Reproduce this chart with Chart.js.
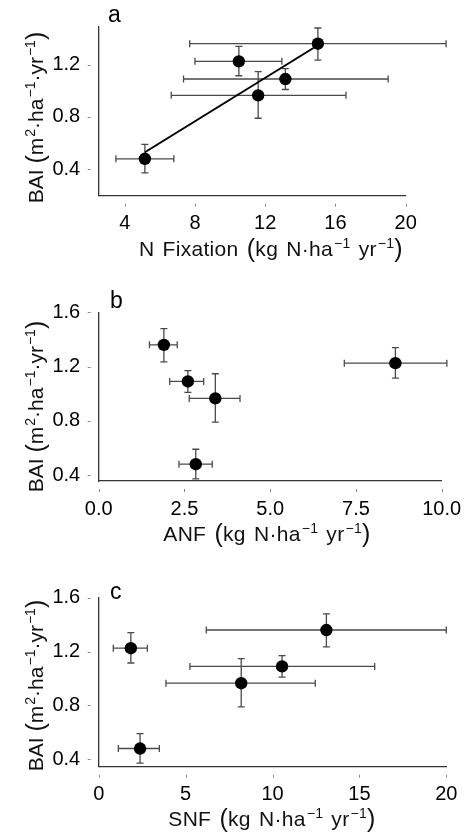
<!DOCTYPE html>
<html>
<head>
<meta charset="utf-8">
<script src="https://cdn.jsdelivr.net/npm/chart.js@4.4.0/dist/chart.umd.min.js"></script>
<style>
  body { margin: 0; background: #fff; font-family: "Liberation Sans", Arial, sans-serif; }
  #page { position: relative; width: 466px; height: 840px; overflow: hidden; }
  .panel { position: absolute; left: 0; width: 466px; height: 280px; }
  .letter { position: absolute; font-size: 23px; line-height: 23px; color: #000; }
  .xtitle { position: absolute; width: 466px; text-align: center; font-size: 21px; line-height: 21px; color: #111;
            white-space: nowrap; word-spacing: 2px; letter-spacing: 0.3px; }
  .ytitle { position: absolute; width: 260px; text-align: center; font-size: 21px; line-height: 21px; color: #111; white-space: nowrap;
            transform: rotate(-90deg); transform-origin: 50% 50%; }
  sup { font-size: 14px; line-height: 0; vertical-align: 8px; margin-left: 1px; }
  .par { font-size: 25px; line-height: 0; vertical-align: -1px; }
</style>
</head>
<body>
<div id="page">
  <div class="panel" style="top:0"><canvas id="chartA" width="466" height="280"></canvas></div>
  <div class="panel" style="top:280px"><canvas id="chartB" width="466" height="280"></canvas></div>
  <div class="panel" style="top:560px"><canvas id="chartC" width="466" height="280"></canvas></div>

  <div class="letter" style="left:108px; top:3px">a</div>
  <div class="letter" style="left:110px; top:289px">b</div>
  <div class="letter" style="left:110px; top:580px">c</div>

  <div class="xtitle" style="left:38px; top:238px">N Fixation <span class="par">(</span>kg N·ha<sup>−1</sup> yr<sup>−1</sup><span class="par">)</span></div>
  <div class="xtitle" style="left:34px; top:523px">ANF <span class="par">(</span>kg N·ha<sup>−1</sup> yr<sup>−1</sup><span class="par">)</span></div>
  <div class="xtitle" style="left:39px; top:808px">SNF <span class="par">(</span>kg N·ha<sup>−1</sup> yr<sup>−1</sup><span class="par">)</span></div>

  <div class="ytitle" style="left:-95px; top:107px">BAI <span class="par">(</span>m<sup>2</sup>·ha<sup>−1</sup>·yr<sup>−1</sup><span class="par">)</span></div>
  <div class="ytitle" style="left:-95px; top:396px">BAI <span class="par">(</span>m<sup>2</sup>·ha<sup>−1</sup>·yr<sup>−1</sup><span class="par">)</span></div>
  <div class="ytitle" style="left:-95px; top:675px">BAI <span class="par">(</span>m<sup>2</sup>·ha<sup>−1</sup>·yr<sup>−1</sup><span class="par">)</span></div>
</div>

<script>
// BAI per site (same five sites in every panel)
const bai     = [1.36, 1.225, 1.09, 0.965, 0.48];
const baiLow  = [1.235, 1.115, 1.01, 0.79, 0.372];
const baiHigh = [1.48, 1.34, 1.17, 1.147, 0.59];

// panel a: total N fixation
const nFix     = [15.0, 10.5, 13.15, 11.6, 5.15];
const nFixLow  = [7.7, 8.0, 7.35, 6.65, 3.5];
const nFixHigh = [22.3, 12.95, 19.0, 16.6, 6.8];
const fitX = [5.15, 15.0];
const fitY = [0.53, 1.348];

// panel b: ANF
const anf     = [1.9, 8.65, 2.6, 3.4, 2.83];
const anfLow  = [1.48, 7.16, 2.07, 2.64, 2.34];
const anfHigh = [2.29, 10.15, 3.06, 4.12, 3.31];

// panel c: SNF
const snf     = [13.1, 1.85, 10.55, 8.2, 2.38];
const snfLow  = [6.19, 0.84, 5.25, 3.87, 1.13];
const snfHigh = [20.0, 2.8, 15.88, 12.46, 3.49];

// tick labels
const xTicksA = [4, 8, 12, 16, 20];
const xTicksB = [0, 2.5, 5, 7.5, 10];
const xTicksC = [0, 5, 10, 15, 20];
const yTicksA = [0.4, 0.8, 1.2];
const yTicksBC = [0.4, 0.8, 1.2, 1.6];

const FONT = "'Liberation Sans', Arial, sans-serif";

// error bars + detached little tick marks
const errorBars = {
    id: 'errorBars',
    beforeDatasetsDraw(chart) {
        const ctx = chart.ctx;
        const xs = chart.scales.x, ys = chart.scales.y;
        chart.data.datasets.forEach(ds => {
            if (!ds.xLow) return;
            ctx.save();
            ctx.strokeStyle = '#4a4a4a';
            ctx.lineWidth = 1.3;
            const cap = 3.5;
            ds.data.forEach((p, i) => {
                const px = xs.getPixelForValue(p.x), py = ys.getPixelForValue(p.y);
                const x0 = xs.getPixelForValue(ds.xLow[i]), x1 = xs.getPixelForValue(ds.xHigh[i]);
                const y0 = ys.getPixelForValue(ds.yLow[i]), y1 = ys.getPixelForValue(ds.yHigh[i]);
                ctx.beginPath();
                ctx.moveTo(x0, py); ctx.lineTo(x1, py);
                ctx.moveTo(x0, py - cap); ctx.lineTo(x0, py + cap);
                ctx.moveTo(x1, py - cap); ctx.lineTo(x1, py + cap);
                ctx.moveTo(px, y0); ctx.lineTo(px, y1);
                ctx.moveTo(px - cap, y0); ctx.lineTo(px + cap, y0);
                ctx.moveTo(px - cap, y1); ctx.lineTo(px + cap, y1);
                ctx.stroke();
            });
            ctx.restore();
        });
    },
    afterDraw(chart) {
        const ctx = chart.ctx;
        const xs = chart.scales.x, ys = chart.scales.y;
        const area = chart.chartArea;
        ctx.save();
        ctx.strokeStyle = '#888';
        ctx.lineWidth = 1;
        ctx.beginPath();
        xs.ticks.forEach(t => {
            const x = Math.round(xs.getPixelForValue(t.value)) + 0.5;
            ctx.moveTo(x, area.bottom + 8); ctx.lineTo(x, area.bottom + 11);
        });
        ys.ticks.forEach(t => {
            const y = Math.round(ys.getPixelForValue(t.value)) + 0.5;
            ctx.moveTo(area.left - 11, y); ctx.lineTo(area.left - 8, y);
        });
        ctx.stroke();
        ctx.restore();
    }
};

function points(xv, yv) {
    return xv.map((x, i) => ({ x: x, y: yv[i] }));
}

function makePanel(id, cfg) {
    const datasets = [];
    if (cfg.fit) {
        datasets.push({
            type: 'line',
            data: points(cfg.fit[0], cfg.fit[1]),
            borderColor: '#000',
            borderWidth: 2,
            pointRadius: 0,
            fill: false,
            clip: false
        });
    }
    datasets.push({
        type: 'scatter',
        data: points(cfg.x, bai),
        xLow: cfg.xLow, xHigh: cfg.xHigh,
        yLow: baiLow, yHigh: baiHigh,
        backgroundColor: '#000',
        borderWidth: 0,
        pointRadius: 6.2,
        clip: false
    });

    return new Chart(document.getElementById(id), {
        type: 'scatter',
        data: { datasets: datasets },
        plugins: [errorBars],
        options: {
            responsive: false,
            animation: false,
            layout: { padding: { left: 0, top: cfg.top, right: 466 - cfg.right, bottom: 0 } },
            plugins: { legend: { display: false }, tooltip: { enabled: false } },
            scales: {
                x: {
                    type: 'linear',
                    min: cfg.xMin, max: cfg.xMax,
                    afterBuildTicks: s => { s.ticks = cfg.xTicks.map(v => ({ value: v })); },
                    afterFit: s => {
                        s.height = 280 - cfg.bottom;
                        s.paddingLeft = 0; s.paddingRight = 0;
                    },
                    grid: { display: false, drawTicks: false },
                    border: { display: true, color: '#333', width: 1.3 },
                    ticks: {
                        color: '#000', padding: 16, maxRotation: 0,
                        font: { family: FONT, size: 20 },
                        callback: v => v.toFixed(cfg.xDec)
                    }
                },
                y: {
                    type: 'linear',
                    min: cfg.yMin, max: cfg.yMax,
                    afterBuildTicks: s => { s.ticks = cfg.yTicks.map(v => ({ value: v })); },
                    afterFit: s => {
                        s.width = 98.7;
                        s.paddingTop = 0; s.paddingBottom = 0;
                    },
                    grid: { display: false, drawTicks: false },
                    border: { display: true, color: '#333', width: 1.3 },
                    ticks: {
                        color: '#000', padding: 18.5,
                        font: { family: FONT, size: 20 },
                        callback: v => v.toFixed(1)
                    }
                }
            }
        }
    });
}

makePanel('chartA', {
    x: nFix, xLow: nFixLow, xHigh: nFixHigh, fit: [fitX, fitY],
    xMin: 2.52, xMax: 20, yMin: 0.198, yMax: 1.49,
    xTicks: xTicksA, yTicks: yTicksA, xDec: 0,
    top: 26.7, bottom: 195.7, right: 405.7
});
makePanel('chartB', {
    x: anf, xLow: anfLow, xHigh: anfHigh,
    xMin: 0, xMax: 10, yMin: 0.356, yMax: 1.6,
    xTicks: xTicksB, yTicks: yTicksBC, xDec: 1,
    top: 32.3, bottom: 201, right: 441.7
});
makePanel('chartC', {
    x: snf, xLow: snfLow, xHigh: snfHigh,
    xMin: 0, xMax: 20, yMin: 0.345, yMax: 1.6,
    xTicks: xTicksC, yTicks: yTicksBC, xDec: 0,
    top: 37.7, bottom: 206.7, right: 446.3
});
</script>
</body>
</html>
